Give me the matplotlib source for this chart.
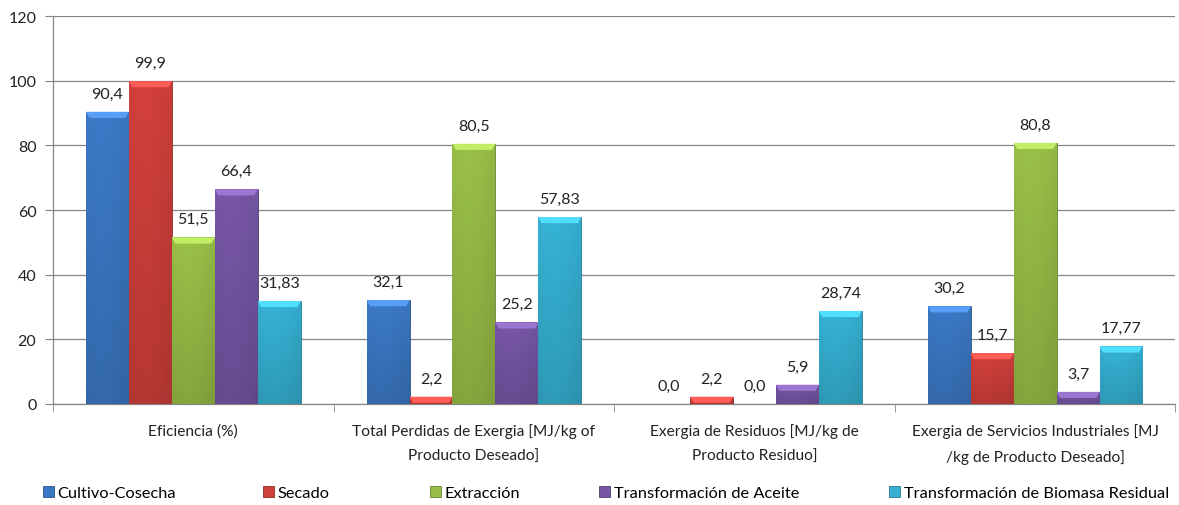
import matplotlib.pyplot as plt
import matplotlib.colors as mcolors
import numpy as np

# datos
categorias = ["Eficiencia (%)",
              "Total Perdidas de Exergia [MJ/kg of\nProducto Deseado]",
              "Exergia de Residuos [MJ/kg de\nProducto Residuo]",
              "Exergia de Servicios Industriales [MJ\n/kg de Producto Deseado]"]
series = ["Cultivo-Cosecha", "Secado", "Extracción",
          "Transformación de Aceite", "Transformación de Biomasa Residual"]
cultivo = [90.4, 32.1, 0.0, 30.2]
secado = [99.9, 2.2, 2.2, 15.7]
extraccion = [51.5, 80.5, 0.0, 80.8]
aceite = [66.4, 25.2, 5.9, 3.7]
biomasa = [31.83, 57.83, 28.74, 17.77]
decimales = [1, 1, 1, 1, 2]
colores = ["#3b78c4", "#cf3f3b", "#97bd47", "#7656a4", "#35b0d2"]

valores = [cultivo, secado, extraccion, aceite, biomasa]
yticks = [0, 20, 40, 60, 80, 100, 120]

plt.rcParams["font.family"] = ["Lato", "DejaVu Sans"]

fig = plt.figure(figsize=(11.79, 5.06), dpi=100)
ax = fig.add_axes([0.045, 0.2, 0.952, 0.766])

x = np.arange(len(categorias))
w = 0.153
gris = "#868686"


def gradiente(c):
    rgb = np.array(mcolors.to_rgb(c))
    ny, nx = 60, 20
    yy = np.linspace(1, 0, ny)[:, None]   # 1 arriba, 0 abajo
    xx = np.linspace(0, 1, nx)[None, :]
    f = 0.88 + 0.14 * yy - 0.10 * np.abs(xx - 0.35) ** 1.5
    img = np.clip(rgb[None, None, :] * f[:, :, None], 0, 1)
    return img


handles = []
for i, (vals, c, d) in enumerate(zip(valores, colores, decimales)):
    pos = x + (i - 2) * w
    bars = ax.bar(pos, vals, w, color=c, edgecolor=np.array(mcolors.to_rgb(c)) * 0.7,
                  linewidth=0.6, zorder=3, label=series[i])
    handles.append(bars)
    img = gradiente(c)
    for b, v in zip(bars, vals):
        x0, bw, h = b.get_x(), b.get_width(), b.get_height()
        ax.annotate(f"{v:.{d}f}".replace(".", ","), (x0 + bw / 2, h),
                    xytext=(0, 8), textcoords="offset points",
                    ha="center", va="bottom", fontsize=11.5, color="#222222")
        if h <= 0:
            continue
        im = ax.imshow(img, extent=[x0, x0 + bw, 0, h], aspect="auto",
                       zorder=3.5, interpolation="bilinear")
        im.set_clip_path(b)
        # bisel superior
        bh = min(1.9, h)
        top = mcolors.to_rgb(c)
        clara = tuple(min(1, t * 1.15 + 0.08) for t in top)
        ax.fill([x0, x0 + bw, x0 + bw - 0.012, x0 + 0.012],
                [h, h, h - bh, h - bh], color=clara, zorder=4, lw=0)

ax.set_xlim(-0.5, len(categorias) - 0.5)
ax.set_ylim(0, 120)
ax.set_yticks(yticks)
ax.set_yticklabels([str(t) for t in yticks], fontsize=11.5, color="#222222")
ax.grid(axis="y", color=gris, linewidth=0.9, zorder=0)
ax.set_axisbelow(True)

ax.set_xticks(x)
ax.set_xticklabels(categorias, fontsize=11.2, color="#222222", linespacing=1.95)
ax.set_xticks(np.arange(len(categorias) + 1) - 0.5, minor=True)
ax.tick_params(axis="x", which="major", length=0, pad=14)
ax.tick_params(axis="x", which="minor", length=6, color=gris)
ax.tick_params(axis="y", length=6, color=gris, pad=6)

for s in ["top", "right"]:
    ax.spines[s].set_visible(False)
for s in ["left", "bottom"]:
    ax.spines[s].set_color(gris)
    ax.spines[s].set_linewidth(0.9)

# leyenda: una entrada por posicion, como en Excel
xs_leyenda = [43, 263, 430, 599, 889]
for hdl, nombre, xl in zip(handles, series, xs_leyenda):
    fig.legend([hdl], [nombre], loc="center left",
               bbox_to_anchor=(xl / 1179, 0.024), frameon=False,
               borderpad=0, borderaxespad=0, handlelength=0.65,
               handleheight=0.65, handletextpad=0.25,
               prop={"size": 11.8})

fig.savefig("out.png", dpi=100)
